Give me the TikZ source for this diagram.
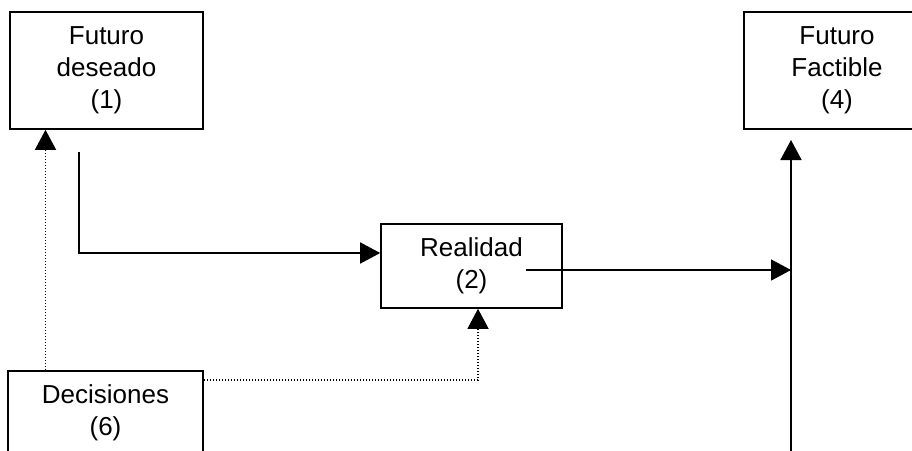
\documentclass[tikz,border=0pt]{standalone}
\usepackage{fontspec}
\setmainfont{Liberation Sans}
\usetikzlibrary{arrows.meta}
\begin{document}
\begin{tikzpicture}[x=1pt,y=-1pt,
  box/.style={draw, line width=1.6pt, inner sep=0pt, align=center,
    font=\fontsize{26}{32}\selectfont},
  solidarrow/.style={line width=1.6pt, -{Triangle[length=20pt,width=21pt]}},
  dotarrow/.style={line width=1.3pt, dash pattern=on 1.3pt off 1.7pt, -{Triangle[length=20pt,width=21pt]}}]
\useasboundingbox (0,0) rectangle (912,450);
\clip (0,0) rectangle (912,450);
\node[box, minimum width=193pt, minimum height=117pt] (f1) at (106.5,70.5) {Futuro\\deseado\\(1)};
\node[box, minimum width=186pt, minimum height=117pt] (f4) at (837,70.5) {Futuro\\Factible\\(4)};
\node[box, minimum width=181pt, minimum height=84pt] (f2) at (471.5,266) {Realidad\\(2)};
\node[box, minimum width=195pt, minimum height=84pt] (f6) at (105.5,413) {Decisiones\\(6)};
\coordinate (a1) at (79,152);
\coordinate (y253) at (0,253);
\coordinate (a2) at (526,270);
\coordinate (a2e) at (791,270);
\coordinate (v0) at (791,455);
\coordinate (v1) at (791,140);
\coordinate (x45) at (45.5,0);
\coordinate (y380) at (0,380);
\coordinate (x478) at (478,0);
\draw[solidarrow] (a1) |- (f2.west |- y253);
\draw[solidarrow] (a2) -- (a2e);
\draw[solidarrow] (v0) -- (v1);
\draw[dotarrow] (f6.north -| x45) -- (f1.south -| x45);
\draw[dotarrow] (f6.east |- y380) -| (f2.south -| x478);
\end{tikzpicture}
\end{document}
